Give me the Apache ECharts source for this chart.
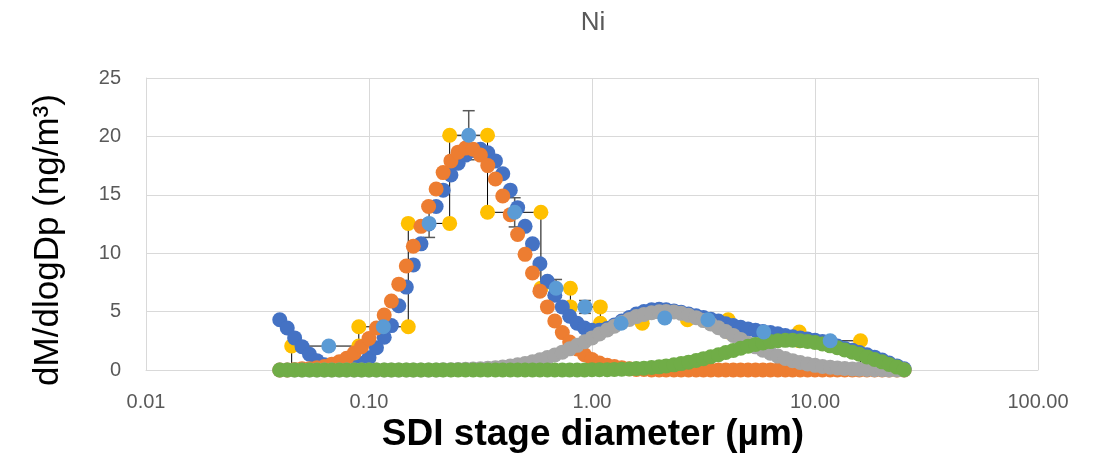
<!DOCTYPE html>
<html>
<head>
<meta charset="utf-8">
<title>Ni</title>
<script src="https://cdn.jsdelivr.net/npm/echarts@6.0.0/dist/echarts.min.js"></script>
<style>
  html, body {
    margin: 0;
    padding: 0;
    background: #fff;
  }
  #chart-ni {
    width: 1099px;
    height: 455px;
  }
</style>
</head>
<body>
<div id="chart-ni"></div>
<script>
// SDI stage edges (µm) and measured dM/dlogDp per stage
var stageEdges = [0.045, 0.09, 0.15, 0.23, 0.34, 0.59, 0.80, 1.09, 1.68, 2.68, 4.08, 8.5, 16.0];
var stageCenters = [0.066, 0.116, 0.186, 0.28, 0.45, 0.69, 0.93, 1.35, 2.12, 3.31, 5.89, 11.7];
var stageValues = [2.05, 3.7, 12.55, 20.1, 13.5, 7.0, 5.4, 4.0, 4.45, 4.3, 3.25, 2.5];
var stageErrors = [0.3, 0.4, 1.2, 2.1, 1.25, 0.75, 0.55, 0.3, 0.3, 0.3, 0.3, 0.2];

// diameters of the fitted curves (µm)
var fitDiameters = [
  0.0398, 0.0430, 0.0464, 0.0501, 0.0541, 0.0584, 0.0631, 0.0681, 0.0736, 0.0794, 0.0858, 0.0926,
  0.100, 0.108, 0.117, 0.126, 0.136, 0.147, 0.158, 0.171, 0.185, 0.200, 0.215, 0.233, 0.251, 0.271, 0.293,
  0.316, 0.341, 0.369, 0.398, 0.430, 0.464, 0.501, 0.541, 0.584, 0.631, 0.681, 0.736, 0.794, 0.858, 0.926,
  1.00, 1.08, 1.17, 1.26, 1.36, 1.47, 1.58, 1.71, 1.85, 2.00, 2.15, 2.33, 2.51, 2.71, 2.93,
  3.16, 3.41, 3.69, 3.98, 4.30, 4.64, 5.01, 5.41, 5.84, 6.31, 6.81, 7.36, 7.94, 8.58, 9.26,
  10.0, 10.8, 11.7, 12.6, 13.6, 14.7, 15.8, 17.1, 18.5, 20.0, 21.5, 23.3, 25.1
];
// total fit
var fitTotal = [
  4.3, 3.6, 2.75, 2.0, 1.35, 0.8, 0.45, 0.3, 0.2, 0.2, 0.3, 0.55,
  1.05, 1.9, 2.8, 3.8, 5.5, 7.1, 9.0, 10.8, 12.5, 14.0, 15.4, 16.7, 17.7, 18.4, 18.8,
  18.9, 18.6, 17.9, 16.8, 15.4, 13.9, 12.3, 10.8, 9.1, 7.6, 6.4, 5.4, 4.6, 4.0, 3.6,
  3.4, 3.4, 3.55, 3.85, 4.2, 4.5, 4.8, 5.0, 5.15, 5.2, 5.15, 5.05, 4.95, 4.8, 4.65,
  4.5, 4.35, 4.2, 3.95, 3.8, 3.65, 3.5, 3.4, 3.3, 3.2, 3.1, 2.95, 2.85, 2.75, 2.65,
  2.55, 2.45, 2.35, 2.05, 1.85, 1.7, 1.5, 1.3, 1.1, 0.85, 0.6, 0.35, 0.1
];
// mode 1 (accumulation)
var fitMode1 = [
  0.0, 0.0, 0.05, 0.1, 0.1, 0.2, 0.3, 0.5, 0.7, 1.0, 1.45, 2.0,
  2.7, 3.6, 4.7, 5.9, 7.35, 8.9, 10.6, 12.3, 14.0, 15.5, 16.9, 17.9, 18.65, 19.0, 18.9,
  18.4, 17.5, 16.35, 14.9, 13.3, 11.6, 9.9, 8.3, 6.75, 5.4, 4.2, 3.2, 2.4, 1.8, 1.3,
  0.9, 0.6, 0.4, 0.3, 0.2, 0.1, 0.05, 0.05, 0.0, 0.0, 0.0, 0.0, 0.0, 0.0, 0.0,
  0.0, 0.0, 0.0, 0.0, 0.0, 0.0, 0.0, 0.0, 0.0, 0.0, 0.0, 0.0, 0.0, 0.0, 0.0,
  0.0, 0.0, 0.0, 0.0, 0.0, 0.0, 0.0, 0.0, 0.0, 0.0, 0.0, 0.0, 0.0
];
// mode 2 (coarse)
var fitMode2 = [
  0.0, 0.0, 0.0, 0.0, 0.0, 0.0, 0.0, 0.0, 0.0, 0.0, 0.0, 0.0,
  0.0, 0.0, 0.0, 0.0, 0.0, 0.0, 0.0, 0.0, 0.01, 0.01, 0.02, 0.03, 0.04, 0.06, 0.08,
  0.11, 0.15, 0.2, 0.26, 0.34, 0.44, 0.56, 0.7, 0.87, 1.06, 1.28, 1.53, 1.81, 2.11, 2.42,
  2.75, 3.09, 3.43, 3.75, 4.06, 4.33, 4.57, 4.76, 4.9, 4.98, 5.0, 4.96, 4.85, 4.69, 4.48,
  4.23, 3.94, 3.62, 3.29, 2.96, 2.62, 2.29, 1.98, 1.69, 1.43, 1.19, 0.98, 0.8, 0.64, 0.51,
  0.4, 0.31, 0.23, 0.18, 0.13, 0.09, 0.07, 0.05, 0.03, 0.02, 0.01, 0.01, 0.0
];
// mode 3 (large coarse)
var fitMode3 = [
  0.0, 0.0, 0.0, 0.0, 0.0, 0.0, 0.0, 0.0, 0.0, 0.0, 0.0, 0.0,
  0.0, 0.0, 0.0, 0.0, 0.0, 0.0, 0.0, 0.0, 0.0, 0.0, 0.0, 0.0, 0.0, 0.0, 0.0,
  0.0, 0.0, 0.0, 0.0, 0.0, 0.0, 0.0, 0.0, 0.0, 0.0, 0.0, 0.0, 0.0, 0.0, 0.0,
  0.02, 0.02, 0.03, 0.04, 0.06, 0.09, 0.12, 0.16, 0.21, 0.27, 0.35, 0.44, 0.55, 0.67, 0.81,
  0.97, 1.13, 1.31, 1.5, 1.68, 1.86, 2.03, 2.19, 2.32, 2.43, 2.5, 2.54, 2.55, 2.51, 2.45,
  2.35, 2.22, 2.07, 1.9, 1.71, 1.53, 1.35, 1.12, 0.9, 0.7, 0.48, 0.25, 0.02
];

var xTicks = ["0.01", "0.10", "1.00", "10.00", "100.00"];

/* pair diameters with values for a scatter series */
function pairUp(xs, ys) {
  var out = [];
  for (var i = 0; i < xs.length; i++) {
    out.push([xs[i], ys[i]]);
  }
  return out;
}

// step outline of the stages and the stage-edge points
var stepLine = [[stageEdges[0], 0]];
var edgePoints = [];
for (var i = 0; i < stageValues.length; i++) {
  stepLine.push([stageEdges[i], stageValues[i]]);
  stepLine.push([stageEdges[i + 1], stageValues[i]]);
  edgePoints.push([stageEdges[i], stageValues[i]]);
  edgePoints.push([stageEdges[i + 1], stageValues[i]]);
}
stepLine.push([stageEdges[stageEdges.length - 1], 0]);

var errorData = [];
for (var j = 0; j < stageValues.length; j++) {
  errorData.push([stageCenters[j], stageValues[j] - stageErrors[j], stageValues[j] + stageErrors[j]]);
}

function dots(name, color, data) {
  return {
    name: name,
    type: "scatter",
    z: 2,
    data: data,
    symbol: "circle",
    symbolSize: 15,
    itemStyle: { color: color, opacity: 1 },
    silent: true
  };
}

var font = '"Liberation Sans", Arial, sans-serif';

var option = {
  animation: false,
  backgroundColor: "#fff",
  grid: {
    left: 146,
    right: 61,
    top: 78,
    bottom: 85
  },
  xAxis: {
    type: "log",
    logBase: 10,
    min: 0.01,
    max: 100,
    axisLine: { show: true, lineStyle: { color: "#d9d9d9", width: 1 } },
    axisTick: { show: false },
    splitLine: { show: true, lineStyle: { color: "#d9d9d9", width: 1 } },
    minorSplitLine: { show: false },
    axisLabel: {
      color: "#595959",
      fontFamily: font,
      fontSize: 20,
      margin: 22,
      formatter: function (v) {
        var k = Math.round(Math.log10(v)) + 2;
        return xTicks[k] !== undefined ? xTicks[k] : "";
      }
    }
  },
  yAxis: {
    type: "value",
    min: 0,
    max: 25,
    interval: 5,
    axisLine: { show: true, lineStyle: { color: "#d9d9d9", width: 1 } },
    axisTick: { show: false },
    splitLine: { show: true, lineStyle: { color: "#d9d9d9", width: 1 } },
    axisLabel: {
      color: "#595959",
      fontFamily: font,
      fontSize: 20,
      margin: 25
    }
  },
  graphic: [
    {
      type: "text",
      x: 593,
      y: 23,
      style: {
        text: "Ni",
        font: '26px ' + font,
        fill: "#595959",
        textAlign: "center",
        textVerticalAlign: "middle"
      }
    },
    {
      type: "text",
      x: 593,
      y: 435,
      style: {
        text: "SDI stage diameter (µm)",
        font: 'bold 37px ' + font,
        fill: "#000",
        textAlign: "center",
        textVerticalAlign: "middle"
      }
    },
    {
      type: "text",
      x: 48,
      y: 240,
      rotation: Math.PI / 2,
      style: {
        text: "dM/dlogDp (ng/m³)",
        font: '35px ' + font,
        fill: "#000",
        textAlign: "center",
        textVerticalAlign: "middle"
      }
    }
  ],
  series: [
    {
      name: "steps",
      type: "line",
      z: 1,
      data: stepLine,
      symbol: "none",
      lineStyle: { color: "#000", width: 1 },
      silent: true
    },
    dots("edges", "#FFC000", edgePoints),
    dots("total", "#4472C4", pairUp(fitDiameters, fitTotal)),
    dots("mode 1", "#ED7D31", pairUp(fitDiameters, fitMode1)),
    dots("mode 2", "#A5A5A5", pairUp(fitDiameters, fitMode2)),
    dots("mode 3", "#70AD47", pairUp(fitDiameters, fitMode3)),
    {
      name: "error",
      type: "custom",
      z: 2,
      data: errorData,
      encode: { x: 0, y: [1, 2] },
      silent: true,
      renderItem: function (params, api) {
        var x = api.value(0);
        var hi = api.coord([x, api.value(2)]);
        var lo = api.coord([x, api.value(1)]);
        var half = 6;
        var st = { stroke: "#595959", lineWidth: 1.5 };
        return {
          type: "group",
          children: [
            { type: "line", shape: { x1: hi[0], y1: hi[1], x2: lo[0], y2: lo[1] }, style: st },
            { type: "line", shape: { x1: hi[0] - half, y1: hi[1], x2: hi[0] + half, y2: hi[1] }, style: st },
            { type: "line", shape: { x1: lo[0] - half, y1: lo[1], x2: lo[0] + half, y2: lo[1] }, style: st }
          ]
        };
      }
    },
    dots("measured", "#5B9BD5", pairUp(stageCenters, stageValues))
  ]
};

var myChart = echarts.init(document.getElementById("chart-ni"));
myChart.setOption(option);
</script>
</body>
</html>
